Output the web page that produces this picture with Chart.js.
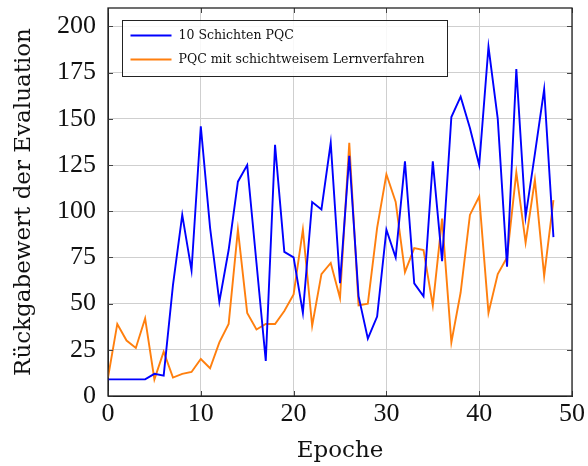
<!DOCTYPE html>
<html>
<head>
<meta charset="utf-8">
<script src="https://cdn.jsdelivr.net/npm/chart.js@4.4.1/dist/chart.umd.min.js"></script>
<style>
  html, body { margin: 0; padding: 0; background: #fff; }
  #wrap { width: 588px; height: 466px; }
</style>
</head>
<body>
<div id="wrap"><canvas id="rewardChart" width="588" height="466"></canvas></div>
<script>
// epochs 0..48
const epochs = [0,1,2,3,4,5,6,7,8,9,10,11,12,13,14,15,16,17,18,19,20,21,22,23,24,25,26,27,28,29,30,31,32,33,34,35,36,37,38,39,40,41,42,43,44,45,46,47,48];
// 10 Schichten PQC
const blueValues = [9,9,9,9,9,12,11,60,98,68,146,91,51,79,116,125,72,19,136,78,75,45,105,101,137,61,130,54,31,43,90,75,127,61,54,127,73,151,162,145,125,189,150,70,177,97,131,166,86];
// PQC mit schichtweisem Lernverfahren
const orangeValues = [10,39,30,26,42,9,24,10,12,13,20,15,29,39,90,45,36,39,39,46,55,90,38,66,72,53,137,49,50,91,120,105,67,80,79,49,96,29,56,98,108,45,66,75,121,83,117,65,106];
const seriesNames = ['10 Schichten PQC', 'PQC mit schichtweisem Lernverfahren'];
const seriesColors = ['#0000ff', '#ff7f0e'];
const yTicks = [0,25,50,75,100,125,150,175,200];
const xTicks = [0,10,20,30,40,50];

const tickFont = { family: 'Liberation Serif', size: 26 };
const titleFont = { family: 'DejaVu Serif', size: 23 };

function toPoints(vals) {
    return vals.map((v, i) => ({ x: epochs[i], y: v }));
}

// box around plot, inward tick marks and the legend inside the plot
const boxPlugin = {
    id: 'boxPlugin',
    afterDraw(chart) {
        const ctx = chart.ctx;
        const a = chart.chartArea;
        const xs = chart.scales.x, ys = chart.scales.y;
        ctx.save();
        ctx.strokeStyle = '#444';
        ctx.lineWidth = 1;
        ctx.beginPath();
        xTicks.forEach(t => {
            const px = Math.round(xs.getPixelForValue(t)) + 0.5;
            ctx.moveTo(px, a.bottom); ctx.lineTo(px, a.bottom - 5);
            ctx.moveTo(px, a.top); ctx.lineTo(px, a.top + 5);
        });
        yTicks.forEach(t => {
            const py = Math.round(ys.getPixelForValue(t)) + 0.5;
            ctx.moveTo(a.left, py); ctx.lineTo(a.left + 5, py);
            ctx.moveTo(a.right, py); ctx.lineTo(a.right - 5, py);
        });
        ctx.stroke();
        ctx.strokeStyle = '#222';
        ctx.lineWidth = 1.3;
        ctx.strokeRect(a.left, a.top, a.right - a.left, a.bottom - a.top);

        // legend
        const lx = a.left + 14.5, ly = a.top + 12.5, lw = 325, lh = 56;
        ctx.fillStyle = 'rgba(255,255,255,0.85)';
        ctx.fillRect(lx, ly, lw, lh);
        ctx.strokeStyle = '#222';
        ctx.lineWidth = 1;
        ctx.strokeRect(lx, ly, lw, lh);
        ctx.font = '12.5px "DejaVu Serif"';
        ctx.textBaseline = 'middle';
        chart.data.datasets.forEach((ds, i) => {
            const cy = ly + 15 + i * 24;
            ctx.strokeStyle = ds.borderColor;
            ctx.lineWidth = 1.8;
            ctx.beginPath();
            ctx.moveTo(lx + 8, cy); ctx.lineTo(lx + 49, cy);
            ctx.stroke();
            ctx.fillStyle = '#111';
            ctx.fillText(ds.label, lx + 56, cy);
        });
        ctx.restore();
    }
};

const rewardChart = new Chart(document.getElementById('rewardChart'), {
    type: 'line',
    data: {
        datasets: [
            {
                label: seriesNames[0],
                data: toPoints(blueValues),
                borderColor: seriesColors[0],
                borderWidth: 1.9,
                pointRadius: 0,
                tension: 0
            },
            {
                label: seriesNames[1],
                data: toPoints(orangeValues),
                borderColor: seriesColors[1],
                borderWidth: 1.9,
                pointRadius: 0,
                tension: 0
            }
        ]
    },
    options: {
        responsive: false,
        animation: false,
        layout: { padding: { top: 8, right: 15, left: 0, bottom: 0 } },
        plugins: {
            legend: { display: false },
            tooltip: { enabled: false }
        },
        scales: {
            x: {
                type: 'linear',
                min: 0,
                max: 50,
                afterBuildTicks: s => { s.ticks = xTicks.map(v => ({ value: v })); },
                afterFit: s => { s.height = 70; },
                ticks: { font: tickFont, color: '#111', padding: 3, maxRotation: 0 },
                grid: { color: '#cfcfcf', drawTicks: false },
                border: { color: '#222', width: 1 },
                title: { display: true, text: 'Epoche', font: titleFont, color: '#111', padding: { top: 4, bottom: 1 } }
            },
            y: {
                type: 'linear',
                min: 0,
                max: 210,
                afterBuildTicks: s => { s.ticks = yTicks.map(v => ({ value: v })); },
                afterFit: s => { s.width = 108; s.paddingTop = 0; },
                ticks: { font: tickFont, color: '#111', padding: 12 },
                grid: { color: '#cfcfcf', drawTicks: false },
                border: { color: '#222', width: 1 },
                title: { display: true, text: 'Rückgabewert der Evaluation', font: titleFont, color: '#111', padding: { top: 10, bottom: 4 } }
            }
        }
    },
    plugins: [boxPlugin]
});
</script>
</body>
</html>
